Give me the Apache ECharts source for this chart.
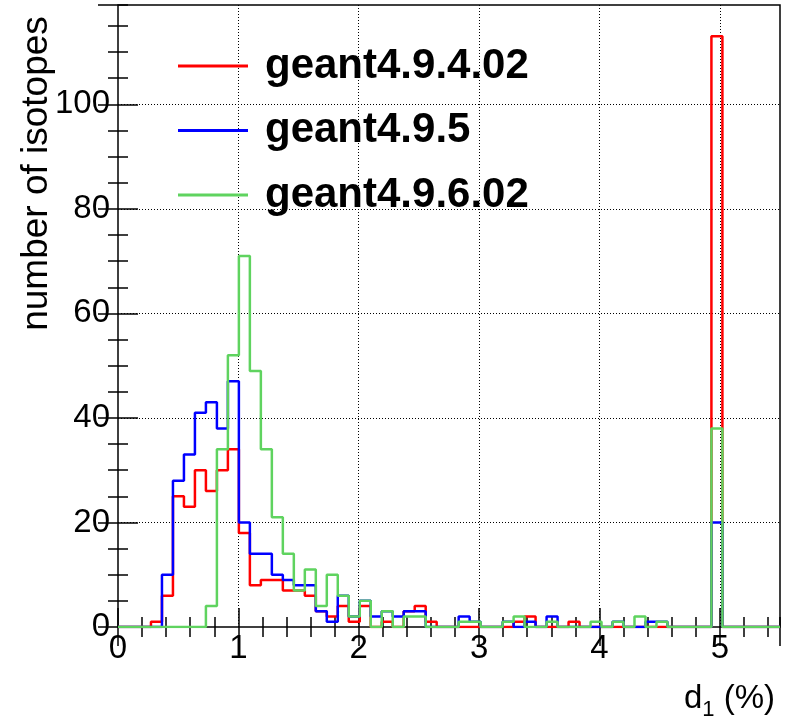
<!DOCTYPE html>
<html><head><meta charset="utf-8">
<script src="https://cdn.jsdelivr.net/npm/echarts@6/dist/echarts.min.js"></script>
<style>html,body{margin:0;padding:0;background:#fff}#c{width:788px;height:725px}</style>
</head><body><div id="c"></div>
<script>
// ---- data ----
const seriesNames = ['geant4.9.4.02', 'geant4.9.5', 'geant4.9.6.02'];
const seriesColors = ['#ff0000', '#0000ff', '#5fd35f'];
const binWidth = 0.0913;          // histogram bin width in d1 (%)
const xRange = [0, 5.5];
const yRange = [0, 119];
const xTicks = [0, 1, 2, 3, 4, 5];
const yTicks = [0, 20, 40, 60, 80, 100];
const xTitle = 'd1 (%)';
const yTitle = 'number of isotopes';

const g4_9_4_02 = [
  0, 0, 0, 1, 6, 25, 23, 30, 26, 30,
  34, 18, 8, 9, 9, 7, 7, 6, 3, 2,
  4, 1, 4, 0, 1, 0, 3, 4, 1, 0,
  0, 0, 0, 0, 0, 0, 1, 2, 0, 0,
  0, 1, 0, 0, 0, 0, 0, 0, 0, 0,
  0, 0, 0, 0, 113, 0, 0, 0, 0, 0
];
const g4_9_5 = [
  0, 0, 0, 0, 10, 28, 33, 41, 43, 38,
  47, 20, 14, 14, 10, 9, 8, 8, 3, 1,
  6, 2, 5, 2, 3, 2, 3, 3, 0, 0,
  0, 2, 1, 0, 0, 1, 0, 1, 0, 2,
  0, 0, 0, 0, 0, 1, 0, 0, 1, 1,
  0, 0, 0, 0, 20, 0, 0, 0, 0, 0
];
const g4_9_6_02 = [
  0, 0, 0, 0, 0, 0, 0, 0, 4, 34,
  52, 71, 49, 34, 21, 14, 7, 11, 4, 10,
  6, 2, 5, 0, 3, 0, 2, 2, 0, 0,
  0, 1, 1, 0, 0, 1, 2, 0, 0, 1,
  0, 0, 0, 1, 0, 1, 0, 2, 0, 1,
  0, 0, 0, 0, 38, 0, 0, 0, 0, 0
];
const histograms = [g4_9_4_02, g4_9_5, g4_9_6_02];

// ---- chart ----
const FONT = 'Liberation Sans';
function stepPoints(vals) {
  const pts = vals.map((v, i) => [+(i * binWidth).toFixed(5), v]);
  pts.push([+(vals.length * binWidth).toFixed(5), 0]);
  pts.push([xRange[1], 0]);
  return pts;
}
const tickStyle = { color: '#000', width: 1.5 };
const dotted = { color: '#000', width: 1, type: [1, 2] };

function xAx(pos, interval, len, main) {
  return {
    type: 'value', position: pos, min: xRange[0], max: xRange[1], interval: interval,
    axisLine: { show: false },
    axisTick: { show: true, inside: true, length: len, lineStyle: tickStyle },
    axisLabel: main ? {
      show: true, fontSize: 33, color: '#000', fontFamily: FONT, margin: 5,
      showMaxLabel: false,
      formatter: v => xTicks.includes(v) ? String(v) : ''
    } : { show: false },
    splitLine: main ? { show: true, showMinLine: false, showMaxLine: false, lineStyle: dotted } : { show: false }
  };
}
function yAx(pos, interval, len, main) {
  return {
    type: 'value', position: pos, min: yRange[0], max: yRange[1], interval: interval,
    axisLine: { show: false },
    axisTick: { show: true, inside: true, length: len, lineStyle: tickStyle },
    axisLabel: main ? {
      show: true, fontSize: 33, color: '#000', fontFamily: FONT, margin: 8,
      showMaxLabel: false,
      formatter: v => yTicks.includes(v) ? String(v) : ''
    } : { show: false },
    splitLine: main ? { show: true, showMinLine: false, showMaxLine: false, lineStyle: dotted } : { show: false }
  };
}

const xMain = xAx('bottom', 1, 19, true);
xMain.name = '{a|d}{s|1}{a| (%)}';
xMain.nameLocation = 'end';
xMain.nameGap = -5;
xMain.nameMoveOverlap = false;
xMain.nameTextStyle = {
  align: 'right', verticalAlign: 'top', padding: [55, 0, 0, 0],
  rich: {
    a: { fontSize: 33, lineHeight: 33, fontFamily: FONT, color: '#000', verticalAlign: 'top' },
    s: { fontSize: 22, lineHeight: 22, fontFamily: FONT, color: '#000', verticalAlign: 'top', padding: [17, 0, 0, 0] }
  }
};
const yMain = yAx('left', 20, 20, true);
// spacer token shifts the title toward the top end of the axis
yMain.name = '{sp| }{t|' + yTitle + '}';
yMain.nameLocation = 'middle';
yMain.nameRotate = 90;
yMain.nameGap = 81;
yMain.nameMoveOverlap = false;
yMain.nameTextStyle = {
  align: 'center', verticalAlign: 'middle',
  rich: {
    sp: { width: 285, fontSize: 37, lineHeight: 37 },
    t: { fontSize: 37, lineHeight: 37, fontFamily: FONT, color: '#000' }
  }
};

const option = {
  animation: false,
  backgroundColor: '#fff',
  textStyle: { fontFamily: FONT },
  grid: { left: 118, top: 5, right: 8, bottom: 98, show: true, borderColor: '#000', borderWidth: 1.5, backgroundColor: 'transparent' },
  legend: {
    orient: 'vertical', left: 178, top: 45, padding: 0,
    itemWidth: 70, itemHeight: 3, itemGap: 22.5, icon: 'rect',
    textStyle: { fontSize: 42, fontWeight: 'bold', fontFamily: FONT, color: '#000', lineHeight: 42, padding: [0, 0, 0, 12] },
    data: seriesNames
  },
  xAxis: [xMain, xAx('bottom', 0.2, 10, false), xAx('top', 1, 19, false), xAx('top', 0.2, 10, false)],
  yAxis: [yMain, yAx('left', 5, 10, false), yAx('right', 20, 20, false), yAx('right', 5, 10, false)],
  series: histograms.map((h, i) => ({
    name: seriesNames[i], type: 'line', step: 'end', xAxisIndex: 0, yAxisIndex: 0,
    data: stepPoints(h), symbol: 'none', showSymbol: false,
    color: seriesColors[i], lineStyle: { width: 2.5, color: seriesColors[i] },
    z: 3 + i
  }))
};
const chart = echarts.init(document.getElementById('c'), null, { renderer: 'canvas' });
chart.setOption(option);
</script></body></html>
